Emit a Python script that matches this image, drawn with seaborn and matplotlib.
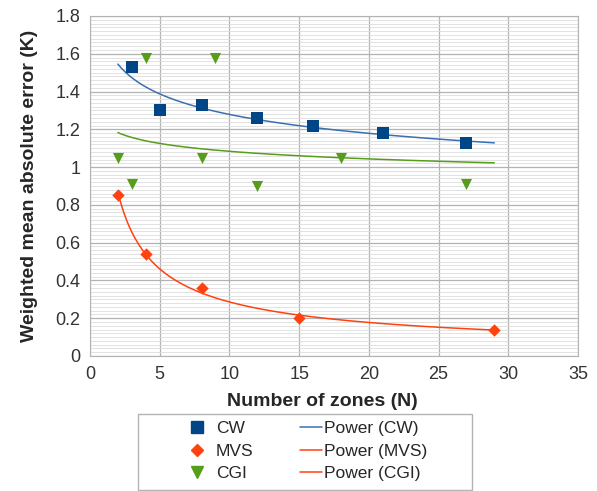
import numpy as np
import pandas as pd
import seaborn as sns
import matplotlib.pyplot as plt
from matplotlib.lines import Line2D
from matplotlib.patches import Rectangle
from matplotlib.ticker import MultipleLocator

cw_x = [3, 5, 8, 12, 16, 21, 27]
cw_y = [1.53, 1.30, 1.33, 1.26, 1.22, 1.18, 1.13]

mvs_x = [2, 4, 8, 15, 29]
mvs_y = [0.85, 0.54, 0.36, 0.20, 0.14]

cgi_x = [2, 3, 4, 8, 9, 12, 18, 27]
cgi_y = [1.05, 0.91, 1.58, 1.05, 1.58, 0.90, 1.05, 0.91]

series = ["CW", "MVS", "CGI"]
colors = {"CW": "#004586", "MVS": "#ff420e", "CGI": "#579d1c"}
trend_colors = {"CW": "#3a6fb0", "MVS": "#ff420e", "CGI": "#579d1c"}
markers = {"CW": "s", "MVS": "D", "CGI": "v"}
sizes = {"CW": 64, "MVS": 40, "CGI": 64}

sns.set_style("white")
plt.rcParams["font.family"] = ["Liberation Sans", "DejaVu Sans"]

df = pd.concat([
    pd.DataFrame({"N": cw_x, "err": cw_y, "series": "CW"}),
    pd.DataFrame({"N": mvs_x, "err": mvs_y, "series": "MVS"}),
    pd.DataFrame({"N": cgi_x, "err": cgi_y, "series": "CGI"}),
])

# power trend lines (least squares on log-log), drawn over the full x range
xs = np.linspace(df["N"].min(), df["N"].max(), 200)
trend_rows = []
for s in series:
    d = df[df["series"] == s]
    b, loga = np.polyfit(np.log(d["N"]), np.log(d["err"]), 1)
    trend_rows.append(pd.DataFrame({"N": xs, "err": np.exp(loga) * xs ** b, "series": s}))
trend = pd.concat(trend_rows)

fig = plt.figure(figsize=(5.97, 4.91), dpi=100)
ax = fig.add_axes([90 / 597, 1 - 356 / 491, (578 - 90) / 597, (356 - 16) / 491])

for s in series:
    sns.lineplot(data=trend[trend["series"] == s], x="N", y="err", color=trend_colors[s],
                 lw=1.1, ax=ax, zorder=2, legend=False)
for s in series:
    sns.scatterplot(data=df[df["series"] == s], x="N", y="err", color=colors[s],
                    marker=markers[s], s=sizes[s], linewidth=0, ax=ax, zorder=3, legend=False)

ax.set_xlim(0, 35)
ax.set_ylim(0, 1.8)
ax.xaxis.set_major_locator(MultipleLocator(5))
ax.yaxis.set_minor_locator(MultipleLocator(0.02))
ax.grid(True, which="major", color="#b3b3b3", lw=0.9)
ax.grid(True, which="minor", axis="y", color="#dddddd", lw=0.6)
ax.set_axisbelow(True)
for sp in ax.spines.values():
    sp.set_color("#b3b3b3")
ax.set_yticks(np.arange(0, 1.81, 0.2))
ax.set_yticklabels(["0", "0.2", "0.4", "0.6", "0.8", "1", "1.2", "1.4", "1.6", "1.8"])
ax.tick_params(axis="both", which="major", labelsize=13, colors="#333333", length=4,
               color="#b3b3b3", pad=3)
ax.tick_params(axis="y", which="minor", length=2, color="#b3b3b3")
ax.set_xlabel("Number of zones (N)", fontsize=14, fontweight="bold")
ax.set_ylabel("Weighted mean absolute error (K)", fontsize=14, fontweight="bold")
ax.xaxis.set_label_coords((322 - 90) / 488, (356 - 401) / 340)
ax.yaxis.set_label_coords((30 - 90) / 488, 0.5)
ax.xaxis.label.set_verticalalignment("center")
ax.yaxis.label.set_verticalalignment("center")

# legend frame and two borderless legends inside it
fig.patches.append(Rectangle((138 / 597, 1 - 490 / 491), (472 - 138) / 597, 76 / 491,
                             transform=fig.transFigure, fill=False,
                             edgecolor="#b3b3b3", lw=1))
marker_handles = [
    Line2D([], [], ls="", marker=markers[s], color=colors[s],
           markersize=8 if s != "MVS" else 6.5)
    for s in series
]
line_handles = [
    Line2D([], [], color=trend_colors["CW"], lw=1.1),
    Line2D([], [], color=trend_colors["MVS"], lw=1.1),
    Line2D([], [], color=trend_colors["MVS"], lw=1.1),
]
leg_kw = dict(loc="upper left", frameon=False, fontsize=12.5, labelspacing=0.42,
              borderpad=0, borderaxespad=0)
fig.legend(marker_handles, series, bbox_to_anchor=(188 / 597, 1 - 421 / 491),
           handlelength=1.0, handletextpad=0.6, **leg_kw)
fig.legend(line_handles, ["Power (CW)", "Power (MVS)", "Power (CGI)"],
           bbox_to_anchor=(300 / 597, 1 - 421 / 491),
           handlelength=1.27, handletextpad=0.1, **leg_kw)

fig.savefig("out.png", dpi=100)
